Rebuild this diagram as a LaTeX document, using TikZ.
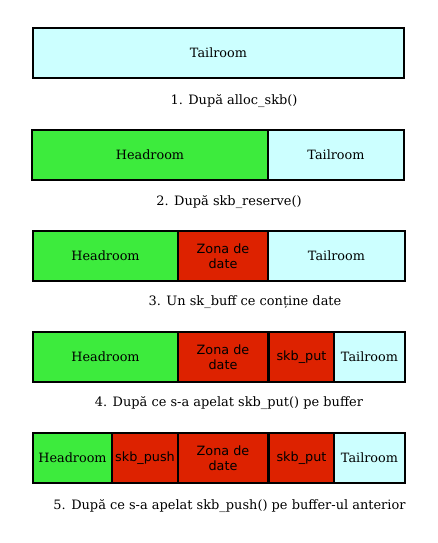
\documentclass[tikz,border=0pt]{standalone}
\usepackage{fontspec}
\setmainfont{DejaVu Serif}
\newfontfamily\cellsans{DejaVu Sans}
\definecolor{tailc}{RGB}{204,255,255}
\definecolor{headc}{RGB}{61,235,61}
\definecolor{datac}{RGB}{221,34,0}
\begin{document}
\begin{tikzpicture}[x=0.75pt,y=-0.75pt,
  cell/.style={draw=black,line width=0.9pt,minimum height=50*0.75pt,inner sep=0pt,font=\fontsize{9.6}{11}\selectfont,align=center},
  tail/.style={cell,fill=tailc},
  head/.style={cell,fill=headc},
  data/.style={cell,fill=datac,font=\cellsans\fontsize{9.6}{11.2}\selectfont},
  capt/.style={font=\fontsize{9.7}{11}\selectfont,inner sep=0pt}]
\useasboundingbox (0,0) rectangle (437,543);
% row 1
\node[tail,minimum width=371*0.75pt] (t1) at (218.5,53) {Tailroom};
\node[capt] (c1) at (234,101) {1. După alloc\_skb()};
% row 2
\node[head,minimum width=236*0.75pt] (h2) at (150,155) {\raisebox{1pt}{Headroom}};
\node[tail,minimum width=136*0.75pt] (t2) at (336,155) {\raisebox{-1pt}{Tailroom}};
\node[capt] (c2) at (229,202) {2. După skb\_reserve()};
% row 3
\node[head,minimum width=145*0.75pt] (h3) at (105.5,256) {Headroom};
\node[data,minimum width=90*0.75pt,line width=1.3pt] (d3) at (223,256) {Zona de\\date};
\node[tail,minimum width=137*0.75pt] (t3) at (336.5,256) {Tailroom};
\node[capt] (c3) at (245,302) {3. Un sk\_buff ce conține date};
% row 4
\node[head,minimum width=145*0.75pt] (h4) at (105.5,357) {Headroom};
\node[data,minimum width=90*0.75pt,line width=1.3pt] (d4) at (223,357) {Zona de\\date};
\node[data,minimum width=65*0.75pt,line width=1.3pt] (p4) at (301.5,357) {skb\_put};
\node[tail,minimum width=71*0.75pt] (t4) at (369.5,357) {Tailroom};
\node[capt] (c4) at (229,403) {4. După ce s-a apelat skb\_put() pe buffer};
% row 5
\node[head,minimum width=79*0.75pt] (h5) at (72.5,458) {Headroom};
\node[data,minimum width=66*0.75pt,line width=1.3pt] (s5) at (145,458) {skb\_push};
\node[data,minimum width=90*0.75pt,line width=1.3pt] (d5) at (223,458) {Zona de\\date};
\node[data,minimum width=65*0.75pt,line width=1.3pt] (p5) at (301.5,458) {skb\_put};
\node[tail,minimum width=71*0.75pt] (t5) at (369.5,458) {Tailroom};
\node[capt] (c5) at (229.5,506) {5. După ce s-a apelat skb\_push() pe buffer-ul anterior};
\end{tikzpicture}
\end{document}
